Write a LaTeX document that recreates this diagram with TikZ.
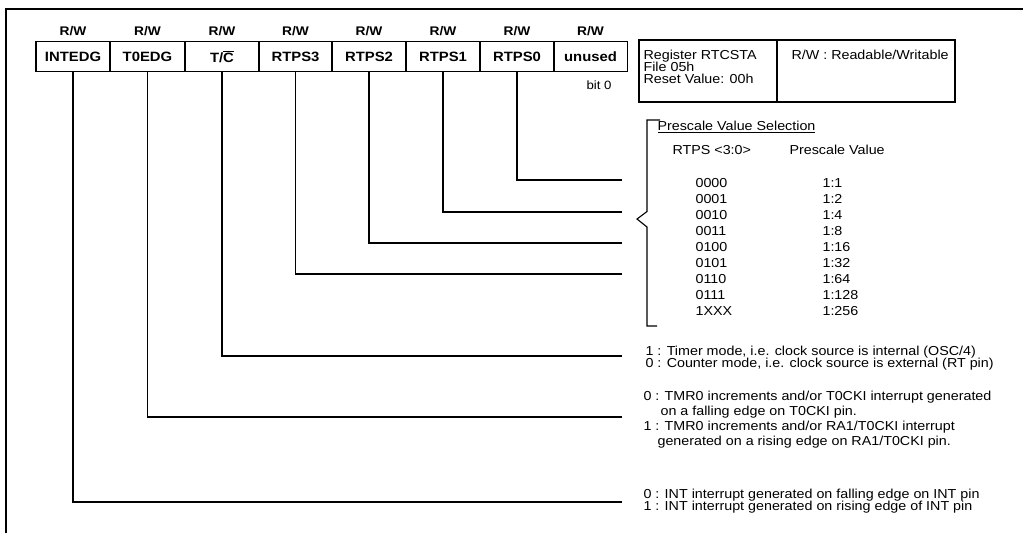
\documentclass[tikz,border=0pt]{standalone}
\usepackage{fontspec}
\setmainfont{Liberation Sans}[FakeStretch=1.1]
\begin{document}
\begin{tikzpicture}[x=1pt,y=-1pt,line width=1.1pt,
  fld/.style={draw, minimum width=74pt, minimum height=30pt, inner sep=0pt, font=\fontsize{13.5}{14}\selectfont\bfseries},
  rw/.style={inner sep=0pt, font=\fontsize{12.5}{13}\selectfont\bfseries},
  txt/.style={anchor=west, inner sep=0pt, font=\fontsize{13}{12}\selectfont, text height=9pt, text depth=2.5pt},
  lbox/.style={draw, minimum height=62pt, inner sep=0pt},
  wire/.style={line width=1.1pt}]
\useasboundingbox (0,0) rectangle (1023,533);
% frame
\draw (6,533) -- (6,9) -- (1023,9);
% register fields
\node[fld] (b7) at (73,56.6) {INTEDG};
\node[fld] (b6) at (147.5,56.6) {T0EDG};
\node[fld] (b5) at (222,56.6) {T/$\overline{\mbox{C}}$};
\node[fld] (b4) at (295.5,56.6) {RTPS3};
\node[fld] (b3) at (369,56.6) {RTPS2};
\node[fld] (b2) at (443,56.6) {RTPS1};
\node[fld] (b1) at (517,56.6) {RTPS0};
\node[fld] (b0) at (590.5,56.6) {unused};
\foreach \n in {b7,b6,b5,b4,b3,b2,b1,b0}
  \node[rw] (rw\n) at ([yshift=26pt]\n.center) {R/W};
\node[txt, anchor=east, font=\fontsize{12}{12}\selectfont] (bit0) at (612,86) {bit 0};
% legend box
\node[lbox, minimum width=138pt] (l1) at (708,71) {};
\node[lbox, minimum width=178pt] (l2) at (866,71) {};
\node[txt] (reg) at (643,56) {Register RTCSTA};
\node[txt] (file) at (643,68) {File 05h};
\node[txt] (rst) at (643,80) {Reset Value: 00h};
\node[txt] (rwd) at (791,56) {R/W : Readable/Writable};
% connector ends
\coordinate (e1) at (622,180);
\coordinate (e2) at (622,212);
\coordinate (e3) at (622,243);
\coordinate (e4) at (622,274);
\coordinate (e5) at (622,356);
\coordinate (e6) at (622,417);
\coordinate (e7) at (622,502);
\foreach \i in {1,...,7}
  \draw[wire] (b\i.south) |- (e\i);
% brace
\draw[wire] (660,120) -- (647,120) -- (647,211.5) -- (637,219) -- (647,227) -- (647,326) -- (657,326);
% prescale table
\node[txt] (pvs) at (657,127) {\underline{Prescale Value Selection}};
\node[txt] (h1) at (672,151) {RTPS <3:0>};
\node[txt] (h2) at (789,151) {Prescale Value};
\foreach \c/\v [count=\k from 0] in {0000/1:1,0001/1:2,0010/1:4,0011/1:8,0100/1:16,0101/1:32,0110/1:64,0111/1:128,1XXX/1:256}{
  \node[txt] (c\k) at (695,184+16*\k) {\c};
  \node[txt] (v\k) at (822,184+16*\k) {\v};
}
% descriptions
\node[txt] (d51) at (645,352) {1 : Timer mode, i.e. clock source is internal (OSC/4)};
\node[txt] (d50) at (645,364) {0 : Counter mode, i.e. clock source is external (RT pin)};
\node[txt] (d60) at (643,397) {0 : TMR0 increments and/or T0CKI interrupt generated};
\node[txt] (d60b) at (660,412) {on a falling edge on T0CKI pin.};
\node[txt] (d61) at (643,427) {1 : TMR0 increments and/or RA1/T0CKI interrupt};
\node[txt] (d61b) at (657,442) {generated on a rising edge on RA1/T0CKI pin.};
\node[txt] (d70) at (643,495) {0 : INT interrupt generated on falling edge on INT pin};
\node[txt] (d71) at (643,507) {1 : INT interrupt generated on rising edge of INT pin};
\end{tikzpicture}
\end{document}
